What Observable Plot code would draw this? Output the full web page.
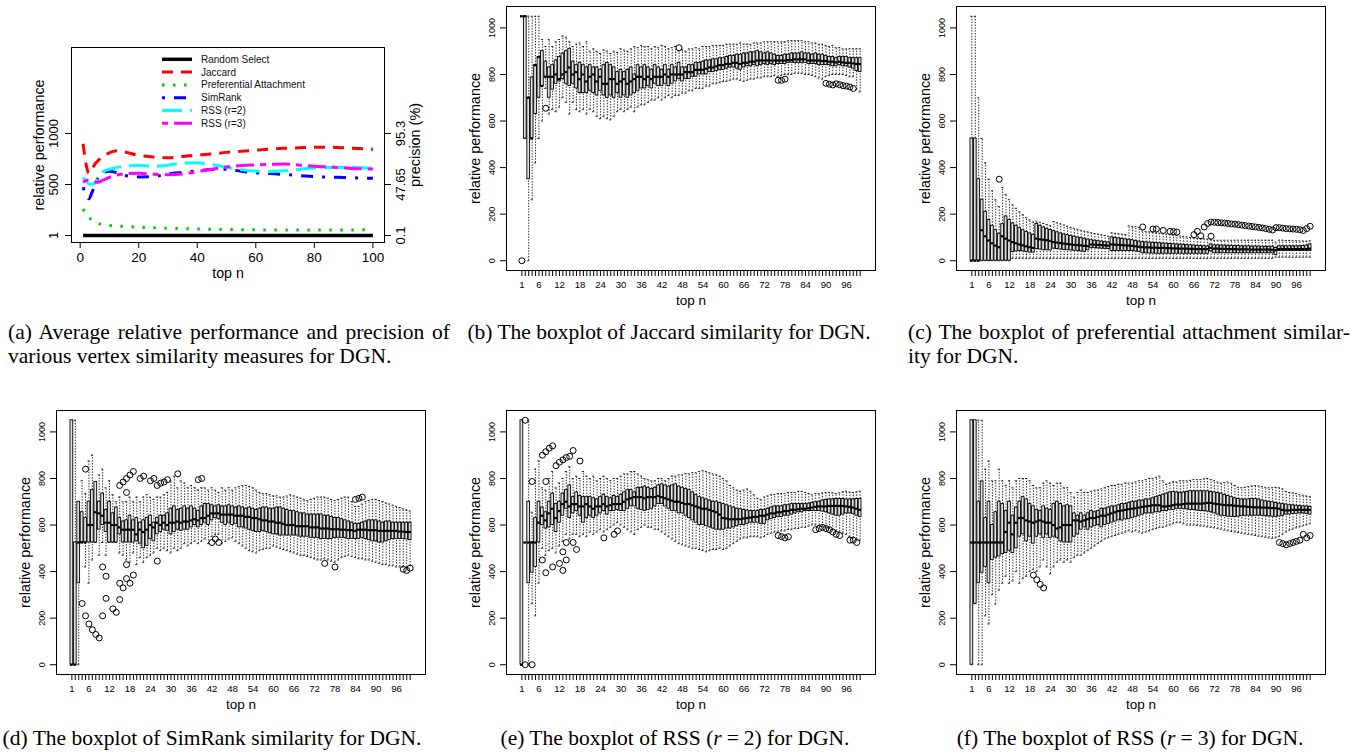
<!DOCTYPE html>
<html><head><meta charset="utf-8">
<script src="https://cdn.jsdelivr.net/npm/d3@7"></script>
<script src="https://cdn.jsdelivr.net/npm/@observablehq/plot@0.6"></script>
<style>
body{margin:0;background:#fff;}
#page{position:relative;width:1362px;height:754px;overflow:hidden;background:#fff;font-family:"Liberation Sans",Arial,sans-serif;}
.panel{position:absolute;}
.cap{position:absolute;font-family:"Liberation Serif","Times New Roman",serif;font-size:21.5px;line-height:24px;color:#000;white-space:nowrap;}
.just{text-align:justify;text-align-last:justify;white-space:normal;}
.ctr{text-align:center;width:600px;}
.eq{margin:0 5px;}
</style></head><body><div id="page"></div>
<script>
// ---------- Panel (a): average relative performance ----------
const aTopN = [1,2,3,4,5,6,8,10,12,15,20,25,30,35,40,45,50,55,60,65,70,75,80,85,90,95,100];
const randomSelectAvg = [1,1,1,1,1,1,1,1,1,1,1,1,1,1,1,1,1,1,1,1,1,1,1,1,1,1,1];
const jaccardAvg = [900,700,610,640,700,730,780,810,828,820,785,770,762,775,790,800,815,825,836,848,855,860,865,865,860,852,845];
const prefAttachAvg = [261,210,179,150,130,120,108,100,95,90,82,77,72,68,64,62,60,58,56,55,55,55,55,55,55,56,57];
const simRankAvg = [473,400,360,420,490,560,615,630,620,590,575,578,605,620,635,648,650,630,614,608,598,588,578,572,570,565,561];
const rss2Avg = [571,530,506,505,512,560,630,650,663,680,688,678,690,710,713,695,670,646,632,628,636,650,663,667,670,666,659];
const rss3Avg = [522,540,545,535,525,522,545,570,590,604,610,600,597,604,627,650,672,686,692,697,702,690,679,672,665,655,653];
const seriesNames = ["Random Select","Jaccard","Preferential Attachment","SimRank","RSS (r=2)","RSS (r=3)"];
const aXTicks = [0,20,40,60,80,100];
const aYTicks = [1,500,1000];
const aYTickLabels = ["1","500","1000"];
const precisionLabels = ["0.1","47.65","95.3"];

// ---------- Boxplot shared ticks ----------
const boxXLabels = [1,6,12,18,24,30,36,42,48,54,60,66,72,78,84,90,96];
const boxYTicks = [0,200,400,600,800,1000];

// ---------- (b) Jaccard ----------
const jacLo = [1050,525,0,262,420,525,600,740,630,650, 640,660,700,680,630,680,650,640,650,630, 650,640,620,610,620,610,605,620,640,650, 640,650,660,640,660,670,670,680,690,690, 700,690,700,710,700,710,710,720,720,730, 730,740,740,740,750,750,760,760,765,770, 770,775,780,780,775,770,775,780,780,785, 785,790,790,790,795,790,795,800,800,800, 805,805,805,800,800,795,790,785,780,790, 795,800,800,800,800,795,790,790,735,725];
const jacQ1 = [1050,525,350,525,630,700,750,790,700,735, 760,770,780,760,750,760,740,720,720,720, 730,720,710,730,710,700,710,700,720,700, 710,700,710,720,730,740,740,750,740,760, 750,750,760,750,760,770,780,770,780,780, 790,790,800,800,800,810,810,815,820,820, 825,830,830,825,820,830,835,835,840,835, 840,845,840,845,840,845,845,845,850,850, 850,850,850,850,845,845,845,840,840,840, 840,835,835,840,835,835,830,825,815,810];
const jacMed = [1050,1050,700,525,840,875,750,790,790,790, 800,780,800,810,830,800,810,780,800,770, 790,800,770,790,760,760,780,780,760,770, 780,760,770,780,790,790,780,790,780,790, 790,790,800,790,800,800,800,800,810,810, 810,820,820,820,825,830,830,835,840,840, 845,845,850,850,845,850,850,855,855,860, 860,860,860,860,860,860,860,860,862,862, 865,865,865,865,860,860,860,860,858,858, 855,855,852,855,852,850,850,848,845,845];
const jacQ3 = [1050,1050,700,787,840,875,900,855,830,840, 860,875,890,900,910,855,840,850,840,830, 840,830,830,820,840,850,840,830,810,820, 810,820,830,800,840,830,840,830,820,840, 830,820,840,820,840,830,850,830,830,840, 840,850,850,855,860,860,865,865,870,870, 875,880,880,885,885,890,890,895,895,900, 895,890,895,890,885,880,880,885,885,890, 890,890,895,890,890,885,890,885,885,880, 875,875,870,875,875,875,870,870,870,870];
const jacHi = [1050,1050,1050,1050,1050,1050,950,920,950,920, 940,950,965,960,940,920,930,935,920,940, 900,910,900,890,905,900,890,900,895,910, 905,900,910,920,915,925,920,920,910,920, 915,925,920,910,915,920,900,905,900,910, 910,915,910,920,920,920,925,925,925,925, 930,930,930,930,935,930,930,930,935,935, 935,940,940,940,940,940,940,940,945,945, 945,945,945,940,940,935,935,930,930,925, 920,925,915,915,910,910,910,910,910,910];
const jacOut = [[1,0],[8,655],[47,915],[76,775],[77,775],[78,780],[90,762],[91,758],[92,755],[93,760],[94,756],[95,752],[96,750],[97,746],[98,740]];

// ---------- (c) Preferential attachment ----------
const paLo = [0,0,0,0,0,0,0,0,0,0, 0,0,10,10,10,10,10,10,10,10, 10,10,10,10,10,10,10,10,10,10, 10,10,10,10,10,10,10,10,10,10, 10,10,10,10,10,10,10,10,10,10, 10,10,10,10,10,10,10,10,10,10, 10,10,10,10,10,10,10,10,10,10, 10,10,10,10,10,10,10,10,10,10, 10,10,10,10,10,10,10,10,10,15, 15,15,15,15,15,15,15,15,15,15];
const paQ1 = [0,0,0,0,0,0,0,0,0,0, 0,0,37,40,42,40,38,35,35,50, 48,45,45,44,52,50,48,46,45,44, 43,42,40,38,45,55,54,53,52,51, 50,42,42,42,42,42,42,42,40,38, 32,32,31,31,30,30,30,30,30,30, 30,30,30,30,30,30,30,30,30,30, 40,32,32,32,32,32,32,32,32,32, 32,32,32,32,32,32,32,32,32,25, 42,42,42,42,42,42,42,42,42,42];
const paMed = [0,0,0,131,105,87,75,65,58,105, 95,87,80,75,70,66,62,58,55,95, 92,90,88,85,80,78,76,74,72,70, 68,67,66,64,63,70,69,68,67,66, 65,70,69,68,67,66,65,64,62,60, 58,57,57,56,56,55,55,54,54,53, 53,52,52,52,51,51,50,50,50,50, 55,52,52,51,51,50,50,50,49,49, 49,49,48,48,48,48,48,48,47,45, 50,50,50,50,50,50,50,50,50,52];
const paQ3 = [525,525,350,262,210,175,150,131,116,157, 190,175,160,150,140,131,124,117,111,158, 150,143,137,132,127,122,117,113,110,106, 103,100,97,94,91,88,86,84,82,80, 78,100,98,96,94,92,90,88,85,82, 80,79,78,77,76,75,74,73,72,71, 70,69,68,67,66,65,64,63,62,61, 70,66,66,65,65,64,64,63,63,62, 62,62,61,61,61,60,60,60,60,55, 62,62,62,62,62,62,62,63,65,70];
const paHi = [1050,1050,700,525,420,350,300,262,233,315, 285,262,240,225,210,197,185,175,166,170, 165,160,155,150,168,163,158,153,148,143, 139,135,131,127,124,120,117,114,111,108, 105,120,118,116,114,112,150,148,146,143, 128,126,124,122,120,118,116,114,112,110, 108,106,104,102,100,98,96,95,94,93, 92,88,88,88,88,88,88,88,88,88, 88,88,88,88,88,88,88,88,88,80, 88,88,87,87,86,86,85,85,84,85];
const paOut = [[9,350],[51,145],[54,136],[55,136],[57,130],[59,126],[60,125],[61,123],[66,112],[67,126],[68,107],[69,145],[70,160],[71,166],[71,105],[72,165],[73,164],[74,163],[75,162],[76,160],[77,158],[78,157],[79,155],[80,153],[81,151],[82,149],[83,147],[84,145],[85,143],[86,141],[87,138],[88,135],[89,132],[90,142],[91,142],[92,140],[93,138],[94,137],[95,136],[96,135],[97,133],[98,130],[99,138],[100,148]];

// ---------- (d) SimRank ----------
const srLo = [0,0,0,525,420,350,450,525,470,525, 470,525,525,525,480,470,450,440,480,430, 460,440,460,470,480,500,490,500,490,480, 500,490,500,520,510,520,530,520,530,540, 520,550,560,560,520,530,540,545,530,520, 510,500,490,485,480,490,495,500,500,510, 505,500,495,490,485,480,475,470,470,465, 460,455,450,450,455,450,445,440,450,460, 465,470,465,460,455,455,450,450,445,440, 435,430,430,425,425,420,420,420,418,425];
const srQ1 = [0,0,350,525,525,525,525,525,580,600, 570,525,525,525,560,525,525,525,525,530, 520,500,510,540,530,560,570,580,575,560, 570,580,575,580,580,590,600,590,600,610, 600,620,630,625,610,600,610,600,605,590, 590,585,580,575,570,570,575,570,565,560, 560,555,555,555,555,555,555,550,550,550, 545,545,545,540,540,540,540,545,545,545, 545,540,540,540,540,545,540,535,530,530, 525,525,530,535,540,540,540,540,538,535];
const srMed = [0,0,525,525,525,600,600,655,650,640, 610,610,600,600,590,580,580,580,580,560, 580,570,580,600,590,610,600,610,600,610, 610,615,610,615,615,620,625,620,630,630, 640,650,650,650,645,645,645,645,640,640, 640,635,635,630,630,625,620,620,615,615, 610,610,605,600,600,600,595,595,595,595, 590,590,590,585,585,585,582,582,582,580, 580,578,578,575,580,580,580,578,578,578, 575,575,575,575,575,575,572,572,570,570];
const srQ3 = [1050,525,700,655,630,700,750,785,700,735, 665,700,650,675,630,615,620,640,620,630, 610,620,630,640,610,630,640,640,650,670, 680,665,670,680,670,680,670,660,680,690, 690,685,680,685,680,680,685,680,675,680, 675,670,675,670,665,670,675,675,670,670, 675,675,670,665,660,660,655,650,650,645, 645,645,645,645,640,640,635,630,630,625, 620,615,610,605,605,610,615,620,620,620, 615,610,615,615,610,610,610,610,610,610];
const srHi = [1050,1050,700,790,735,875,900,785,815,840, 760,790,730,700,720,700,700,720,700,720, 700,720,730,720,710,720,720,730,740,790, 810,760,790,780,760,770,760,750,760,760, 750,760,750,740,760,750,760,750,760,765, 770,770,765,760,750,740,735,735,730,725, 725,720,720,725,730,725,720,715,710,705, 710,715,720,720,720,715,710,705,710,715, 720,720,700,680,680,690,700,705,710,710, 705,700,695,690,685,680,675,670,665,660];
const srOut = [[4,263],[5,840],[5,210],[6,175],[7,150],[8,130],[9,115],[10,420],[10,210],[11,380],[11,285],[13,240],[14,225],[15,770],[15,350],[15,280],[16,785],[16,330],[17,800],[17,740],[17,430],[17,370],[18,815],[18,350],[19,830],[19,385],[21,800],[22,810],[24,790],[25,800],[26,770],[26,445],[27,780],[28,785],[29,795],[32,820],[38,795],[39,800],[42,525],[43,540],[44,525],[75,435],[78,420],[84,710],[85,715],[86,720],[98,410],[99,405],[100,415]];

// ---------- (e) RSS r=2 ----------
const rss2Lo = [0,525,0,262,210,350,500,470,490,500, 480,510,530,560,540,560,560,550,560,550, 570,560,570,580,570,580,590,600,610,600, 590,580,570,560,580,590,600,590,590,580, 580,570,560,550,540,530,520,515,510,505, 500,500,495,490,485,490,495,495,500,495, 500,510,520,530,540,545,545,550,550,550, 545,550,560,565,570,570,575,575,580,580, 585,585,590,590,595,600,600,598,595,590, 585,580,575,570,565,560,550,545,540,535];
const rss2Q1 = [0,525,350,395,420,525,600,585,590,600, 570,610,640,670,630,650,660,640,610,630, 640,630,640,650,660,645,660,660,665,660, 660,670,680,680,670,665,660,665,670,680, 690,690,680,670,660,660,650,650,640,630, 620,610,600,600,595,590,585,580,580,580, 585,585,590,595,600,600,605,610,610,610, 605,605,620,625,630,635,635,640,640,645, 650,655,655,660,660,660,660,660,658,655, 650,645,640,640,645,650,650,648,640,635];
const rss2Med = [0,525,525,525,525,610,640,620,650,670, 630,660,690,700,680,690,690,680,680,690, 680,670,680,680,690,680,685,690,690,690, 700,710,715,720,720,720,715,720,720,720, 725,720,715,710,705,700,700,695,690,690, 685,680,675,670,670,665,660,655,645,630, 628,625,625,625,625,628,630,632,635,635, 640,640,645,650,650,655,655,660,660,665, 665,668,670,670,672,675,678,680,680,680, 682,682,682,682,682,680,678,675,670,665];
const rss2Q3 = [1050,525,700,525,630,700,675,655,700,735, 690,700,735,750,770,720,740,725,720,720, 720,715,710,720,730,720,715,725,720,730, 740,750,750,740,760,760,765,760,755,760, 770,775,770,765,770,775,765,760,755,750, 740,730,720,715,710,705,700,700,695,690, 685,680,675,670,668,665,662,660,660,660, 665,665,670,675,680,680,680,685,685,690, 690,690,690,690,692,695,698,700,705,708, 710,710,712,712,712,710,710,710,712,712];
const rss2Hi = [1050,525,1050,655,840,875,760,750,800,830, 760,780,800,830,850,800,810,800,830,810, 800,810,790,800,810,800,790,800,800,810, 820,820,830,830,820,810,800,795,790,790, 800,800,790,800,810,810,815,815,820,820, 825,825,830,835,830,825,820,815,810,800, 790,770,760,750,745,750,755,745,730,715, 710,720,725,730,730,735,735,735,740,740, 740,745,745,740,735,730,735,735,738,740, 740,738,735,738,742,745,742,740,742,745];
const rss2Out = [[2,0],[2,1050],[4,0],[4,787],[7,900],[7,450],[8,915],[8,787],[8,395],[9,930],[10,940],[10,420],[11,855],[12,870],[12,435],[13,880],[13,485],[13,405],[14,890],[14,525],[14,450],[15,895],[16,920],[16,525],[17,495],[18,875],[25,545],[28,560],[29,575],[76,555],[77,550],[78,545],[79,550],[87,580],[88,585],[89,590],[90,585],[91,580],[92,570],[93,560],[94,555],[97,535],[98,535],[99,525]];

// ---------- (f) RSS r=3 ----------
const rss3Lo = [0,262,0,0,210,175,300,260,320,350, 380,350,360,400,350,370,380,400,410,400, 420,450,420,390,420,440,450,440,450,440, 460,470,470,480,490,500,510,520,530,540, 545,550,555,560,565,570,575,570,575,570, 565,570,575,580,585,590,590,595,600,605, 610,610,605,600,600,600,598,596,595,592, 590,588,585,582,578,575,572,570,568,565, 562,560,558,555,552,550,548,545,543,545, 550,560,570,578,582,588,592,596,600,605];
const rss3Q1 = [0,262,350,395,420,350,450,460,465,475, 480,490,480,500,550,560,530,550,520,550, 560,545,560,545,550,545,530,525,525,525, 550,560,580,590,580,590,595,600,590,600, 605,610,615,620,620,625,625,630,635,640, 645,650,650,650,655,655,660,660,665,665, 670,670,668,668,665,665,662,660,660,658, 655,650,645,640,638,636,635,635,636,638, 640,640,640,640,640,640,638,637,636,635, 637,640,645,645,648,648,650,650,648,645];
const rss3Med = [525,525,525,525,525,525,525,525,525,525, 570,610,560,610,630,630,620,615,610,615, 620,615,610,610,600,585,590,600,600,600, 620,620,615,620,625,630,630,635,640,640, 645,650,655,660,662,665,668,670,672,675, 678,680,682,685,685,685,680,680,682,685, 688,688,690,692,692,692,692,692,693,695, 695,692,690,688,686,685,685,683,682,680, 680,678,677,676,676,675,675,674,673,672, 670,665,663,663,665,665,666,665,665,665];
const rss3Q3 = [1050,1050,700,787,630,700,600,655,700,690, 660,700,640,675,700,720,710,690,680,665, 660,680,670,665,690,700,690,680,685,680, 650,640,650,640,650,660,655,660,670,670, 675,680,680,685,690,690,695,700,700,705, 705,710,710,715,720,725,730,735,740,742, 740,738,740,742,745,745,745,745,745,745, 742,740,738,735,730,725,720,715,712,710, 710,710,712,712,710,705,702,700,698,695, 692,690,688,685,685,683,682,680,680,678];
const rss3Hi = [1050,1050,1050,1050,840,875,790,790,840,790, 770,790,760,790,800,800,800,790,770,760, 760,780,790,780,770,780,780,760,760,740, 720,740,750,740,740,745,750,750,755,760, 765,770,770,775,775,780,780,780,785,790, 790,795,800,800,805,810,790,775,780,785, 785,790,790,790,792,795,795,795,798,800, 795,790,785,780,782,785,780,770,762,760, 762,765,768,770,768,765,762,760,760,762, 760,755,745,740,738,735,730,728,725,722];
const rss3Out = [[19,385],[20,365],[21,345],[22,330],[91,525],[92,520],[93,515],[94,520],[95,525],[96,530],[97,535],[98,560],[99,545],[100,555]];

// ---------- drawing ----------
const page = document.getElementById("page");
const FONT = '"Liberation Sans", Arial, Helvetica, sans-serif';
function place(node, left, top) {
  const d = document.createElement("div");
  d.className = "panel";
  d.style.left = left + "px";
  d.style.top = top + "px";
  d.appendChild(node);
  page.appendChild(d);
  return d;
}
const baseStyle = {fontFamily: FONT, color: "black", background: "transparent", overflow: "visible"};

// Panel (a)
const seriesValues = [randomSelectAvg, jaccardAvg, prefAttachAvg, simRankAvg, rss2Avg, rss3Avg];
const seriesStyle = [
  {stroke: "#000000", width: 3.5, dash: null},
  {stroke: "#ff0000", width: 3, dash: "11,8"},
  {stroke: "#00cd00", width: 3, dash: "2.5,8.5"},
  {stroke: "#0000ff", width: 3, dash: "3,9,12,9"},
  {stroke: "#00ffff", width: 3, dash: "20,8"},
  {stroke: "#ff00ff", width: 3, dash: "6,6,18,6"}
];
const lineMarks = seriesValues.map((vals, k) =>
  Plot.line(aTopN.map((n, i) => ({n, v: vals[i]})), {
    x: "n", y: "v", stroke: seriesStyle[k].stroke, strokeWidth: seriesStyle[k].width,
    strokeDasharray: seriesStyle[k].dash, curve: k === 0 ? "linear" : "monotone-x", strokeLinecap: "butt"
  })
);
const plotA = Plot.plot({
  width: 450, height: 290, marginLeft: 71, marginRight: 66, marginTop: 47, marginBottom: 48,
  x: {domain: [-2.96, 103.96], label: null},
  y: {domain: [-67.6, 1842], label: null},
  style: baseStyle,
  marks: [
    ...lineMarks,
    Plot.frame({stroke: "black", strokeWidth: 1}),
    Plot.axisX({ticks: aXTicks, tickSize: 6, tickPadding: 4, fontSize: 13.5, label: null}),
    Plot.axisY({anchor: "left", ticks: aYTicks, tickSize: 6, tickFormat: () => "", label: null}),
    Plot.axisY({anchor: "right", ticks: aYTicks, tickSize: 6, tickFormat: () => "", label: null}),
    Plot.text(aYTicks, {y: d => d, text: (d, i) => aYTickLabels[i], frameAnchor: "left", dx: -18, rotate: -90, textAnchor: "middle", lineAnchor: "middle", fontSize: 13}),
    Plot.text(aYTicks, {y: d => d, text: (d, i) => precisionLabels[i], frameAnchor: "right", dx: 16, rotate: -90, textAnchor: "middle", lineAnchor: "middle", fontSize: 13}),
    Plot.text(["relative performance"], {text: d => d, frameAnchor: "left", dx: -32, rotate: -90, textAnchor: "middle", lineAnchor: "middle", fontSize: 14.4}),
    Plot.text(["precision (%)"], {text: d => d, frameAnchor: "right", dx: 31, rotate: -90, textAnchor: "middle", lineAnchor: "middle", fontSize: 14.4}),
    Plot.text(["top n"], {text: d => d, frameAnchor: "bottom", dy: 31, textAnchor: "middle", lineAnchor: "middle", fontSize: 14.2})
  ]
});
place(plotA, 0, 0);

// legend for (a)
const leg = d3.create("svg").attr("width", 450).attr("height", 290)
  .style("position", "absolute").style("left", "0px").style("top", "0px").style("pointer-events", "none");
seriesNames.forEach((name, k) => {
  const yy = 59.3 + k * 12.8;
  leg.append("line").attr("x1", 162).attr("x2", 192).attr("y1", yy).attr("y2", yy)
    .attr("stroke", seriesStyle[k].stroke).attr("stroke-width", seriesStyle[k].width)
    .attr("stroke-dasharray", seriesStyle[k].dash);
  leg.append("text").attr("x", 201).attr("y", yy).attr("dy", "0.35em")
    .attr("font-family", FONT).attr("font-size", 10).attr("fill", "#111").text(name);
});
place(leg.node(), 0, 0);

// boxplot panels
function boxPanel(lo, q1, med, q3, hi, out, width) {
  const rows = med.map((m, i) => ({n: i + 1, lo: lo[i], q1: q1[i], med: m, q3: q3[i], hi: hi[i]}));
  const pts = out.map(([n, v]) => ({n, v}));
  const half = 0.4, cap = 0.3;
  const dash = {stroke: "#111", strokeWidth: 0.9, strokeDasharray: "1.4,1.4"};
  return Plot.plot({
    width, height: 315, marginLeft: 56, marginRight: width - 425, marginTop: 6, marginBottom: 45,
    x: {domain: [-3.5, 104.5], label: null},
    y: {domain: [-42, 1092], label: null},
    style: baseStyle,
    marks: [
      Plot.ruleX(rows, {x: "n", y1: "q3", y2: "hi", ...dash}),
      Plot.ruleX(rows, {x: "n", y1: "lo", y2: "q1", ...dash}),
      Plot.ruleY(rows, {y: "hi", x1: d => d.n - cap, x2: d => d.n + cap, stroke: "#111", strokeWidth: 0.9}),
      Plot.ruleY(rows, {y: "lo", x1: d => d.n - cap, x2: d => d.n + cap, stroke: "#111", strokeWidth: 0.9}),
      Plot.rect(rows, {x1: d => d.n - half, x2: d => d.n + half, y1: "q1", y2: "q3", fill: "#e2e2e2", stroke: "black", strokeWidth: 0.9}),
      Plot.ruleY(rows, {y: "med", x1: d => d.n - half, x2: d => d.n + half, stroke: "black", strokeWidth: 2.2}),
      Plot.dot(pts, {x: "n", y: "v", r: 3, stroke: "black", fill: "none", strokeWidth: 1}),
      Plot.frame({stroke: "black", strokeWidth: 1}),
      Plot.axisX({ticks: d3.range(1, 101), tickSize: 6, tickPadding: 5, fontSize: 9.6, label: null,
        tickFormat: d => boxXLabels.includes(d) ? String(d) : ""}),
      Plot.axisY({anchor: "left", ticks: boxYTicks, tickSize: 6, tickFormat: () => "", label: null}),
      Plot.text(boxYTicks, {y: d => d, text: d => String(d), frameAnchor: "left", dx: -14, rotate: -90, textAnchor: "middle", lineAnchor: "middle", fontSize: 9}),
      Plot.text(["relative performance"], {text: d => d, frameAnchor: "left", dx: -31, rotate: -90, textAnchor: "middle", lineAnchor: "middle", fontSize: 14.4}),
      Plot.text(["top n"], {text: d => d, frameAnchor: "bottom", dy: 30, textAnchor: "middle", lineAnchor: "middle", fontSize: 13.5})
    ]
  });
}
place(boxPanel(jacLo, jacQ1, jacMed, jacQ3, jacHi, jacOut, 450), 450, 0);
place(boxPanel(paLo, paQ1, paMed, paQ3, paHi, paOut, 462), 900, 0);
place(boxPanel(srLo, srQ1, srMed, srQ3, srHi, srOut, 450), 0, 404);
place(boxPanel(rss2Lo, rss2Q1, rss2Med, rss2Q3, rss2Hi, rss2Out, 450), 450, 404);
place(boxPanel(rss3Lo, rss3Q1, rss3Med, rss3Q3, rss3Hi, rss3Out, 462), 900, 404);

// captions
function cap(html, left, top, cls, width) {
  const d = document.createElement("div");
  d.className = "cap " + (cls || "");
  d.style.left = left + "px";
  d.style.top = top + "px";
  if (width) d.style.width = width + "px";
  d.innerHTML = html;
  page.appendChild(d);
}
cap("(a) Average relative performance and precision of", 8, 320, "just", 442);
cap("various vertex similarity measures for DGN.", 8, 344, "", null);
cap("(b) The boxplot of Jaccard similarity for DGN.", 669 - 300, 320, "ctr", null);
cap("(c) The boxplot of preferential attachment similar-", 908, 320, "just", 442);
cap("ity for DGN.", 908, 344, "", null);
cap("(d) The boxplot of SimRank similarity for DGN.", 212 - 300, 726, "ctr", null);
cap("(e) The boxplot of RSS (<i>r</i><span class=\"eq\">=</span>2) for DGN.", 675 - 300, 726, "ctr", null);
cap("(f) The boxplot of RSS (<i>r</i><span class=\"eq\">=</span>3) for DGN.", 1130 - 300, 726, "ctr", null);
</script></body></html>
